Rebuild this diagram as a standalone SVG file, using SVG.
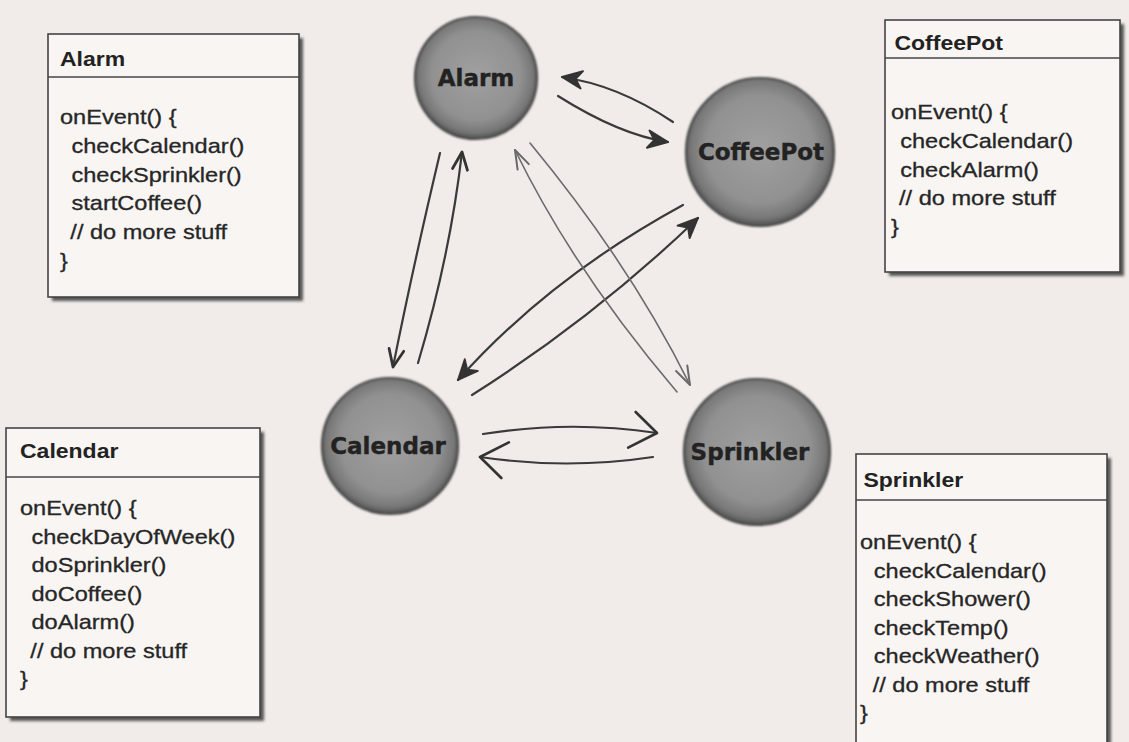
<svg xmlns="http://www.w3.org/2000/svg" width="1129" height="742" viewBox="0 0 1129 742">
<style>
.bg{fill:#f1ece9}
.box{fill:#f8f5f3;stroke:#444;stroke-width:1.6}
.shadow{fill:#555;filter:url(#blur2)}
.div{stroke:#444;stroke-width:1.6}
.title{font-family:"Liberation Sans",Arial,sans-serif;font-weight:bold;font-size:20px;fill:#222}
.code{font-family:"Liberation Sans",Arial,sans-serif;font-size:20.5px;fill:#262626;stroke:#262626;stroke-width:0.3}
.circ{fill:url(#ball);stroke:#474747;stroke-width:2.2;filter:url(#blur1)}
.lbl{font-family:"DejaVu Sans",Verdana,sans-serif;font-weight:bold;font-size:23px;fill:#222;text-anchor:middle;stroke:#222;stroke-width:0.4}
.ln{fill:none;stroke:#3a3a3a;stroke-width:2.2;stroke-linecap:round}
.thin{fill:none;stroke:#6a6a6a;stroke-width:1.6;stroke-linecap:round}
</style>
<defs>
<radialGradient id="ball" cx="50%" cy="48%" r="52%">
<stop offset="0" stop-color="#a0a0a0"/>
<stop offset="0.7" stop-color="#919191"/>
<stop offset="0.9" stop-color="#777"/>
<stop offset="1" stop-color="#505050"/>
</radialGradient>
<filter id="blur1" x="-10%" y="-10%" width="120%" height="120%"><feGaussianBlur stdDeviation="0.8"/></filter>
<filter id="blur2" x="-10%" y="-10%" width="120%" height="120%"><feGaussianBlur stdDeviation="1.8"/></filter>
<marker id="fill" markerUnits="userSpaceOnUse" markerWidth="30" markerHeight="30" refX="0" refY="0" viewBox="-20 -10 24 20" orient="auto">
<path d="M0,0 L-16,-7 L-11,0 L-16,7 Z" fill="#333" stroke="#333" stroke-width="1.5" stroke-linejoin="round"/>
</marker>
<marker id="vee" markerUnits="userSpaceOnUse" markerWidth="30" markerHeight="30" refX="0" refY="0" viewBox="-20 -10 24 20" orient="auto">
<path d="M-14,-6 L0,0 L-14,6" fill="none" stroke="#333" stroke-width="2.2" stroke-linecap="round" stroke-linejoin="round"/>
</marker>
<marker id="chev" markerUnits="userSpaceOnUse" markerWidth="40" markerHeight="44" refX="0" refY="0" viewBox="-30 -20 34 40" orient="auto">
<path d="M-22,-16 L0,0 L-24,17" fill="none" stroke="#333" stroke-width="2.4" stroke-linecap="round" stroke-linejoin="round"/>
</marker>
<marker id="tvee" markerUnits="userSpaceOnUse" markerWidth="30" markerHeight="30" refX="0" refY="0" viewBox="-20 -10 24 20" orient="auto">
<path d="M-15,-5 L0,0 L-15,5" fill="none" stroke="#6a6a6a" stroke-width="1.6" stroke-linecap="round" stroke-linejoin="round"/>
</marker>
</defs>
<rect class="bg" x="0" y="0" width="1129" height="742"/>

<g id="connectors">
<path class="ln" d="M673,122 Q618,85 562,77" marker-end="url(#fill)"/>
<path class="ln" d="M558,96 Q620,135 668,142" marker-end="url(#fill)"/>
<path class="ln" d="M440,153 Q413,267 393,367" marker-end="url(#vee)"/>
<path class="ln" d="M418,363 Q450,256 462,152" marker-end="url(#vee)"/>
<path class="ln" d="M683,205 Q549,278 458,380" marker-end="url(#fill)"/>
<path class="ln" d="M472,395 Q595,317 698,218" marker-end="url(#fill)"/>
<path class="thin" d="M677,392 Q574,271 515,150" marker-end="url(#tvee)"/>
<path class="thin" d="M530,143 Q630,264 690,385" marker-end="url(#tvee)"/>
<path class="ln" d="M483,434 Q570,420 657,433" marker-end="url(#chev)"/>
<path class="ln" d="M653,457 Q567,470 480,457" marker-end="url(#chev)"/>
</g>

<g id="node-alarm">
<circle class="circ" cx="476" cy="78" r="61"/>
<text class="lbl" x="476" y="86">Alarm</text>
</g>
<g id="node-coffeepot">
<circle class="circ" cx="760" cy="152" r="74"/>
<text class="lbl" x="761" y="160">CoffeePot</text>
</g>
<g id="node-calendar">
<circle class="circ" cx="390" cy="446" r="68"/>
<text class="lbl" x="388" y="454">Calendar</text>
</g>
<g id="node-sprinkler">
<circle class="circ" cx="757" cy="452" r="73"/>
<text class="lbl" x="750" y="460">Sprinkler</text>
</g>

<g id="box-alarm">
<rect class="shadow" x="52" y="38" width="251" height="263"/>
<rect class="box" x="48" y="34" width="251" height="263"/>
<line class="div" x1="48" y1="77" x2="299" y2="77"/>
<g transform="translate(60 0) scale(1.15 1)">
<text class="title" x="0" y="66">Alarm</text>
<text class="code" x="0" y="124">onEvent() {</text>
<text class="code" x="10" y="153">checkCalendar()</text>
<text class="code" x="10" y="182">checkSprinkler()</text>
<text class="code" x="10" y="210">startCoffee()</text>
<text class="code" x="9" y="239">// do more stuff</text>
<text class="code" x="0" y="268">}</text>
</g>
</g>

<g id="box-coffeepot">
<rect class="shadow" x="889" y="24" width="235" height="252"/>
<rect class="box" x="885" y="20" width="235" height="252"/>
<line class="div" x1="885" y1="58" x2="1120" y2="58"/>
<g transform="translate(891 0) scale(1.15 1)">
<text class="title" x="3" y="50">CoffeePot</text>
<text class="code" x="0" y="119">onEvent() {</text>
<text class="code" x="8" y="148">checkCalendar()</text>
<text class="code" x="8" y="177">checkAlarm()</text>
<text class="code" x="7" y="205">// do more stuff</text>
<text class="code" x="0" y="234">}</text>
</g>
</g>

<g id="box-calendar">
<rect class="shadow" x="10" y="432" width="254" height="289"/>
<rect class="box" x="6" y="428" width="254" height="289"/>
<line class="div" x1="6" y1="477" x2="260" y2="477"/>
<g transform="translate(20 0) scale(1.15 1)">
<text class="title" x="0" y="458">Calendar</text>
<text class="code" x="0" y="515">onEvent() {</text>
<text class="code" x="10" y="544">checkDayOfWeek()</text>
<text class="code" x="10" y="572">doSprinkler()</text>
<text class="code" x="10" y="601">doCoffee()</text>
<text class="code" x="10" y="629">doAlarm()</text>
<text class="code" x="9" y="658">// do more stuff</text>
<text class="code" x="0" y="686">}</text>
</g>
</g>

<g id="box-sprinkler">
<rect class="shadow" x="860" y="458" width="251" height="300"/>
<rect class="box" x="856" y="454" width="251" height="300"/>
<line class="div" x1="856" y1="500" x2="1107" y2="500"/>
<g transform="translate(860 0) scale(1.15 1)">
<text class="title" x="3" y="487">Sprinkler</text>
<text class="code" x="0" y="549">onEvent() {</text>
<text class="code" x="12" y="578">checkCalendar()</text>
<text class="code" x="12" y="606">checkShower()</text>
<text class="code" x="12" y="635">checkTemp()</text>
<text class="code" x="12" y="663">checkWeather()</text>
<text class="code" x="11" y="692">// do more stuff</text>
<text class="code" x="0" y="720">}</text>
</g>
</g>
</svg>
